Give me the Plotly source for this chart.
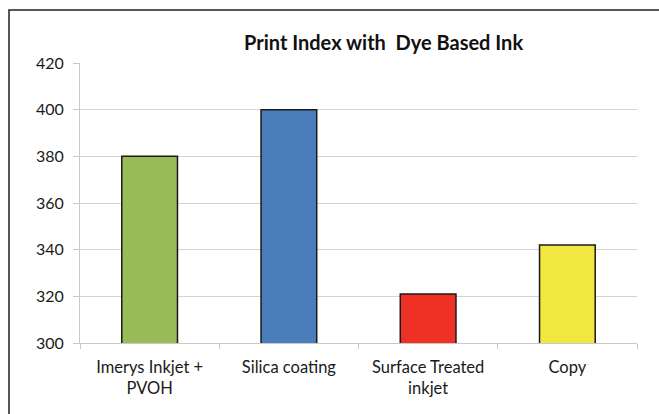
import plotly.graph_objects as go

categories = ["Imerys Inkjet +<br>PVOH", "Silica coating", "Surface Treated<br>inkjet", "Copy"]
values = [380, 400, 321, 342]
colors = ["#9BBB59", "#4A7EBB", "#EE3124", "#F0E840"]
title_text = "Print Index with  Dye Based Ink"
y_ticks = [300, 320, 340, 360, 380, 400, 420]

W, H = 659, 414
# plot area in viewport pixels: x 80..637, y 63..343
L, R = 80, W - 637
T, B = 63, H - 343
pw, ph = W - L - R, H - T - B

def px_x(px):
    return (px - L) / pw

def px_y(py):
    return (H - B - py) / ph

fig = go.Figure(go.Bar(
    x=categories, y=values,
    marker=dict(color=colors, line=dict(color="#1a1a1a", width=1.5)),
    width=0.4,
))

font_fam = "Lato, 'Open Sans', sans-serif"
fig.update_layout(
    width=W, height=H,
    margin=dict(l=L, r=R, t=T, b=B, autoexpand=False),
    paper_bgcolor="white", plot_bgcolor="white",
    showlegend=False,
    font=dict(family=font_fam, size=16, color="#1a1a1a"),
    annotations=[dict(
        text="<b>" + title_text.replace("  ", " &nbsp;") + "</b>",
        x=px_x(383), y=px_y(42), xref="paper", yref="paper",
        xanchor="center", yanchor="middle", showarrow=False,
        font=dict(size=20, color="#111", family=font_fam),
    )],
    shapes=[dict(
        type="rect", xref="paper", yref="paper",
        x0=px_x(9), x1=px_x(670), y0=px_y(425), y1=px_y(10),
        line=dict(color="#222", width=1.5), fillcolor="rgba(0,0,0,0)", layer="below",
    )],
)
fig.update_yaxes(
    range=[300, 420], tickvals=y_ticks,
    showgrid=True, gridcolor="#d4d4d4", gridwidth=1,
    showline=True, linecolor="#c8c8c8", linewidth=1,
    ticks="outside", ticklen=6, tickcolor="#c8c8c8",
    ticklabelstandoff=6,
    zeroline=False, automargin=False,
    tickfont=dict(size=16, color="#1a1a1a"),
)
fig.update_xaxes(
    showline=True, linecolor="#c8c8c8", linewidth=1,
    ticks="outside", ticklen=5, tickcolor="#c8c8c8",
    tickson="boundaries", automargin=False,
    tickfont=dict(size=16.5, color="#1a1a1a"),
    ticklabelstandoff=9,
)
fig.write_html(
    "out.html",
    config={"displayModeBar": False},
    post_script="document.body.style.margin='0';document.body.style.overflow='hidden';"
                "document.documentElement.style.overflow='hidden';",
)
